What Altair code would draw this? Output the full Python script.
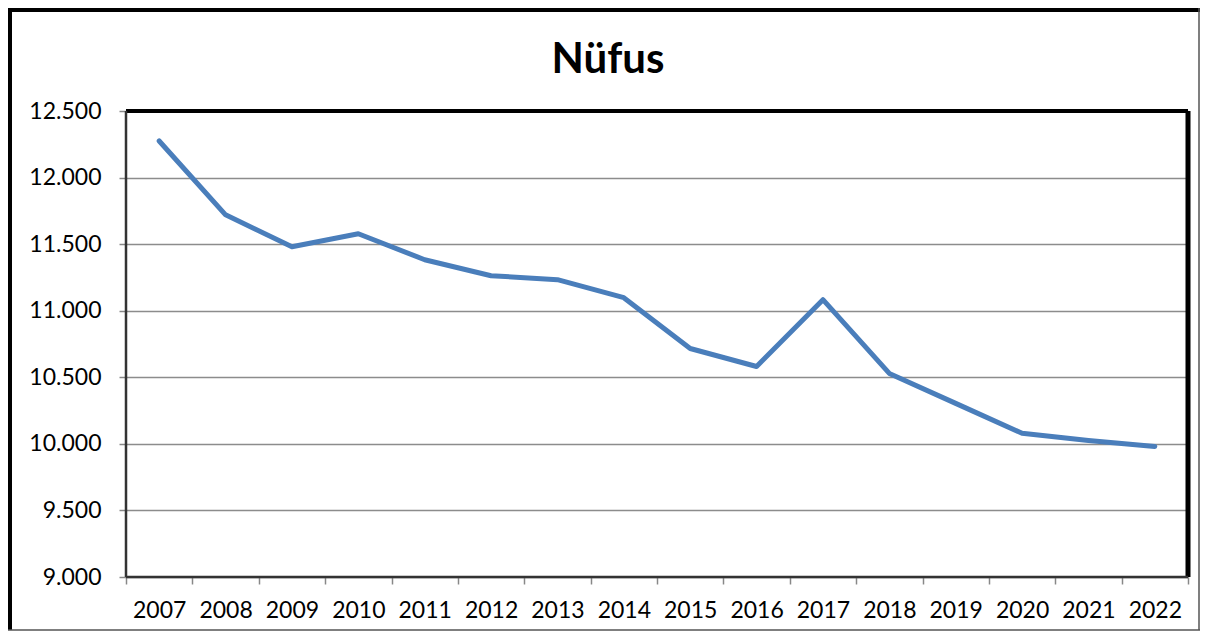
import altair as alt
import pandas as pd

years = ["2007", "2008", "2009", "2010", "2011", "2012", "2013", "2014",
         "2015", "2016", "2017", "2018", "2019", "2020", "2021", "2022"]
population = [12275, 11720, 11481, 11578, 11383, 11263, 11233, 11098,
              10716, 10581, 11083, 10529, 10304, 10079, 10026, 9981]
title_text = ["Nüfus"]

df = pd.DataFrame({"Yıl": years, "Nüfus": population})

W, H = 1062, 466
FONT = "Lato"

base = alt.Chart(df)

line = base.mark_line(color="#4a7ebb", strokeWidth=5, strokeCap="round", strokeJoin="round").encode(
    x=alt.X("Yıl:O", scale=alt.Scale(type="band", paddingInner=0, paddingOuter=0),
            axis=alt.Axis(title=None, labelAngle=0, tickBand="extent", tickSize=7,
                          tickColor="#888888", tickWidth=1.5, domain=False,
                          labelFont=FONT, labelFontSize=23, labelColor="black",
                          labelPadding=15, grid=False)),
    y=alt.Y("Nüfus:Q", scale=alt.Scale(domain=[9000, 12500], nice=False, zero=False),
            axis=alt.Axis(title=None, values=[9000, 9500, 10000, 10500, 11000, 11500, 12000, 12500],
                          labelExpr="replace(format(datum.value, ','), ',', '.')",
                          tickSize=7, tickColor="#888888", tickWidth=1.5, domain=False,
                          labelFont=FONT, labelFontSize=23, labelColor="black",
                          labelPadding=18, grid=True, gridColor="#8c8c8c", gridWidth=1.5)),
)

frame_df = pd.DataFrame({"k": [0]})
fb = alt.Chart(frame_df)
top = fb.mark_rule(color="black", strokeWidth=4).encode(x=alt.value(0), x2=alt.value(W), y=alt.value(0))
right = fb.mark_rule(color="black", strokeWidth=5).encode(x=alt.value(W), y=alt.value(0), y2=alt.value(H))
left = fb.mark_rule(color="#333333", strokeWidth=2.5).encode(x=alt.value(0), y=alt.value(0), y2=alt.value(H))
bottom = fb.mark_rule(color="#333333", strokeWidth=2.5).encode(x=alt.value(0), x2=alt.value(W), y=alt.value(H))

# outer chart frame
o_left = fb.mark_rule(color="black", strokeWidth=4, clip=False).encode(x=alt.value(-116), y=alt.value(-103), y2=alt.value(H + 53))
o_top = fb.mark_rule(color="black", strokeWidth=4, clip=False).encode(x=alt.value(-118), x2=alt.value(W + 12), y=alt.value(-101))
o_right = fb.mark_rule(color="#555555", strokeWidth=1.5, clip=False).encode(x=alt.value(W + 11), y=alt.value(-103), y2=alt.value(H + 53))
o_bottom = fb.mark_rule(color="#555555", strokeWidth=1.5, clip=False).encode(x=alt.value(-118), x2=alt.value(W + 12), y=alt.value(H + 53))

title = alt.Chart(pd.DataFrame({"t": title_text})).mark_text(
    font=FONT, fontSize=42, fontWeight="bold", color="black", align="center", baseline="alphabetic", clip=False
).encode(text="t:N", x=alt.value(482), y=alt.value(-38))

chart = alt.layer(line, top, right, left, bottom, o_left, o_top, o_right, o_bottom, title).properties(
    width=W, height=H,
    autosize=alt.AutoSizeParams(type="none"),
    padding={"left": 118, "top": 103, "right": 12, "bottom": 54},
).configure_view(stroke=None).configure(background="white")

chart.save("out.html", embed_options={"renderer": "svg", "actions": False})
